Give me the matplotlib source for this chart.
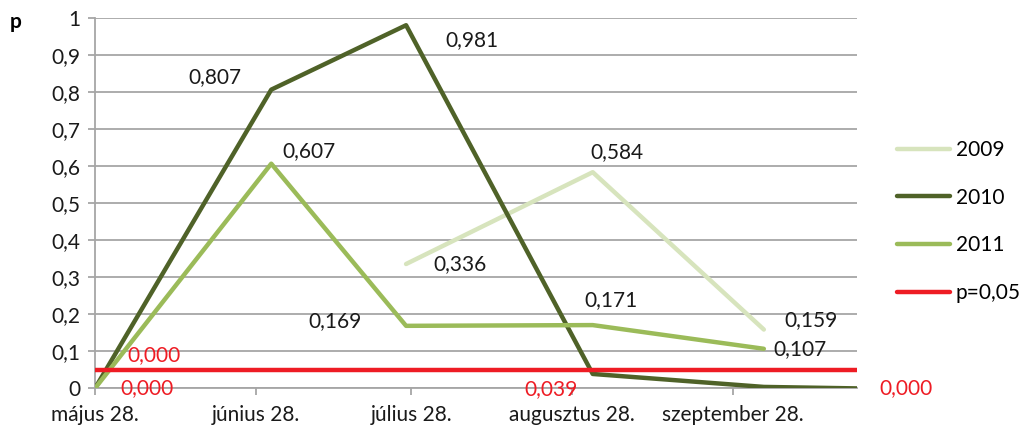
import numpy as np
import matplotlib
matplotlib.use("Agg")
import matplotlib.pyplot as plt

plt.rcParams['font.family'] = ['Lato', 'DejaVu Sans']

# Data (x = days after május 28.)
x_days = [0, 34, 60, 96, 129, 147]
tick_days = [0, 31, 61, 92, 123]
tick_labels = ["május 28.", "június 28.", "július 28.", "augusztus 28.", "szeptember 28."]
y_2009 = [np.nan, np.nan, 0.336, 0.584, 0.159, np.nan]
y_2010 = [0.000, 0.807, 0.981, 0.039, 0.004, 0.000]
y_2011 = [0.000, 0.607, 0.169, 0.171, 0.107, np.nan]
p_limit = 0.05
labels_2009 = [None, None, "0,336", "0,584", "0,159", None]
labels_2010 = ["0,000", "0,807", "0,981", "0,039", None, "0,000"]
labels_2011 = ["0,000", "0,607", "0,169", "0,171", "0,107", None]

c2009 = "#d7e4bd"
c2010 = "#4f6228"
c2011 = "#9bbb59"
cred = "#ee1c24"
FS = 15

fig = plt.figure(figsize=(10.30, 4.33), dpi=100)
ax = fig.add_axes([0.0922, 0.103, 0.740, 0.855])

lw = 3.2
ax.plot(x_days, y_2009, color=c2009, lw=lw, solid_capstyle='round', label="2009", zorder=3)
ax.plot(x_days, y_2010, color=c2010, lw=lw, solid_capstyle='round', label="2010", zorder=3)
ax.plot(x_days, y_2011, color=c2011, lw=lw, solid_capstyle='round', label="2011", zorder=3)
ax.plot([x_days[0], x_days[-1]], [p_limit, p_limit], color=cred, lw=lw,
        solid_capstyle='round', label="p=0,05", zorder=4)

def lab(xs, ys, texts, offsets, colors):
    for xv, yv, t, off, col in zip(xs, ys, texts, offsets, colors):
        if t is None:
            continue
        ax.annotate(t, (xv, yv), xytext=off, textcoords='offset pixels',
                    ha='center', va='center', fontsize=FS, color=col, zorder=5)

k = "#1a1a1a"
lab(x_days, y_2009, labels_2009,
    [None, None, (54, 0), (24, 20), (47, 9), None],
    [k, k, k, k, k, k])
lab(x_days, y_2010, labels_2010,
    [(59, 33), (-56, 13), (66, -15), (-42, -15), None, (49, 0)],
    [cred, k, k, cred, k, cred])
lab(x_days, y_2011, labels_2011,
    [(52, 0), (38, 13), (-71, 5), (18, 25), (36, 0), None],
    [cred, k, k, k, k, k])

ax.set_xlim(x_days[0], x_days[-1])
ax.set_ylim(0, 1)
yt = np.round(np.arange(0, 1.01, 0.1), 1)
ax.set_yticks(yt)
ax.set_yticklabels([("%g" % v).replace(".", ",") for v in yt], fontsize=FS)
ax.set_xticks(tick_days)
ax.set_xticklabels(tick_labels, fontsize=FS)
ax.yaxis.grid(True, color="#a6a6a6", lw=1.3)
ax.set_axisbelow(True)
for s in ['top', 'right']:
    ax.spines[s].set_visible(False)
ax.spines['left'].set_color("#a6a6a6")
ax.spines['bottom'].set_color("#a6a6a6")
ax.spines['left'].set_linewidth(1.3)
ax.spines['bottom'].set_linewidth(1.3)
ax.tick_params(axis='both', colors="#a6a6a6", labelcolor="#1a1a1a", length=5, width=1.3)
ax.tick_params(axis='y', pad=5.5)
ax.tick_params(axis='x', pad=7)

fig.text(0.015, 0.95, "p", fontsize=FS, fontweight='bold', ha='center', va='center')

leg = ax.legend(loc='upper left', bbox_to_anchor=(1.0416, 0.6935), frameon=False,
                fontsize=FS, handlelength=2.55, handletextpad=0.25, labelspacing=1.33,
                borderaxespad=0)

fig.savefig("out.png", dpi=100)
